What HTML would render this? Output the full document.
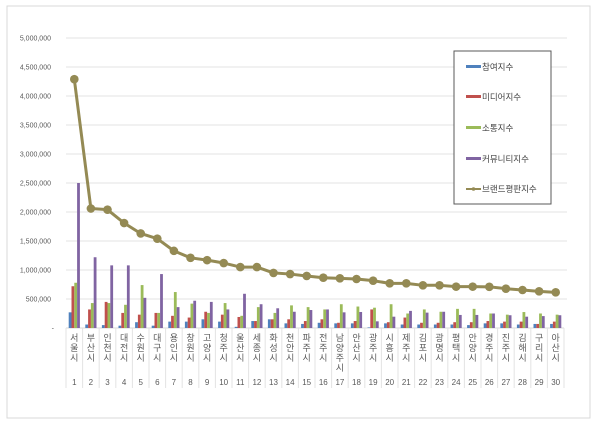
<!DOCTYPE html>
<html><head><meta charset="utf-8">
<style>
body{margin:0;background:#fff;}
svg{display:block;font-family:"Liberation Sans","Noto Sans CJK KR",sans-serif;}
</style></head>
<body>
<svg id="chart" width="600" height="425" viewBox="0 0 600 425" xmlns="http://www.w3.org/2000/svg">
<rect x="0" y="0" width="600" height="425" fill="#fff"/>
<rect x="7" y="6" width="583" height="412" fill="#fff" stroke="#d9d9d9" stroke-width="1"/>
<g id="grid"></g><g id="yaxis"></g><g id="xaxis"></g><g id="bars"></g><g id="line"></g>
<g>
<rect x="454" y="51" width="97" height="153" fill="#fff" stroke="#595959" stroke-width="1"/>
<g><rect x="466" y="65" width="15" height="3" fill="#4f81bd"/><text x="482" y="70" font-size="8.5" fill="#404040">참여지수</text></g>
<g><rect x="466" y="95" width="15" height="3" fill="#c0504d"/><text x="482" y="100" font-size="8.5" fill="#404040">미디어지수</text></g>
<g><rect x="466" y="126" width="15" height="3" fill="#9bbb59"/><text x="482" y="131" font-size="8.5" fill="#404040">소통지수</text></g>
<g><rect x="466" y="157" width="15" height="3" fill="#8064a2"/><text x="482" y="162" font-size="8.5" fill="#404040">커뮤니티지수</text></g>
<g><line x1="466" y1="189" x2="481" y2="189" stroke="#948a54" stroke-width="2"/><circle cx="473.5" cy="189" r="1.8" fill="#948a54"/><text x="482" y="192" font-size="8.5" fill="#404040">브랜드평판지수</text></g>
</g>
</svg>
<script>
const cities=["서울시","부산시","인천시","대전시","수원시","대구시","용인시","창원시","고양시","청주시","울산시","세종시","화성시","천안시","파주시","전주시","남양주시","안산시","광주시","시흥시","제주시","김포시","광명시","평택시","안양시","경주시","진주시","김해시","구리시","아산시"];
const participation=[270,60,50,40,100,40,110,110,150,110,20,120,150,80,70,90,80,80,10,80,60,60,60,60,50,80,80,60,70,70];
const media=[720,320,450,260,230,260,210,180,280,230,190,120,150,150,120,150,90,120,320,100,180,90,90,100,100,120,110,110,70,110];
const communication=[780,430,430,400,740,260,620,420,260,430,210,360,260,390,360,320,410,370,350,410,250,320,280,330,330,250,230,275,250,230];
const community=[2500,1220,1080,1080,520,930,360,470,450,320,590,410,340,280,310,320,270,276,115,195,295,265,280,225,225,250,220,195,205,220];
const brand=[4290,2060,2040,1810,1630,1540,1330,1210,1170,1120,1050,1050,950,930,897,867,856,845,816,770,770,736,736,713,713,710,678,655,632,615];
const yTicks=[0,500,1000,1500,2000,2500,3000,3500,4000,4500,5000];
const yTickLabels=["-","500,000","1,000,000","1,500,000","2,000,000","2,500,000","3,000,000","3,500,000","4,000,000","4,500,000","5,000,000"];
const NS="http://www.w3.org/2000/svg";
const X0=66,X1=564,Y0=328,Y1=38,YMAX=5000;
const bw=(X1-X0)/cities.length;
function y(v){return Y0-(v/YMAX)*(Y0-Y1);}
function xc(i){return X0+bw*(i+0.5);}
function mk(t,a,p){const e=document.createElementNS(NS,t);for(const k in a)e.setAttribute(k,a[k]);p.appendChild(e);return e;}
const grid=document.getElementById('grid'),ya=document.getElementById('yaxis'),xa=document.getElementById('xaxis'),bars=document.getElementById('bars'),lg=document.getElementById('line');
yTicks.forEach((t,i)=>{
 if(t>0){const l=mk('line',{x1:X0,x2:X1+3,y1:y(t),y2:y(t),stroke:'#e3e3e3','stroke-width':1},grid);
 
 }
 const tx=mk('text',{x:i===0?54:51,y:y(t)+2.5,'font-size':7,fill:'#595959','text-anchor':'end'},ya);
 tx.textContent=yTickLabels[i];
 
 
});
mk('line',{x1:X0,x2:X1,y1:Y0,y2:Y0,stroke:'#d9d9d9','stroke-width':1},xa);
for(let i=0;i<=cities.length;i++){mk('line',{x1:X0+bw*i,x2:X0+bw*i,y1:Y0,y2:388,stroke:'#e3e3e3','stroke-width':1},xa);}
cities.forEach((c,i)=>{
 const g=mk('g',{},xa);
 
 
 [...c].forEach((ch,j)=>{const t=mk('text',{x:xc(i),y:341+j*10,'font-size':9,fill:'#595959','text-anchor':'middle'},g);t.textContent=ch;});
 const n=mk('text',{x:xc(i),y:385,'font-size':8,fill:'#595959','text-anchor':'middle'},g);n.textContent=String(i+1);
});
const series=[[participation,'#4f81bd','bar-participation'],[media,'#c0504d','bar-media'],[communication,'#9bbb59','bar-communication'],[community,'#8064a2','bar-community']];
const w=2.8;
series.forEach((s,k)=>{
 s[0].forEach((v,i)=>{
  const x=xc(i)-2*w+k*w;
  const r=mk('rect',{x:x,y:y(v),width:w,height:Y0-y(v),fill:s[1]},bars);
  
  
 });
});
const pts=brand.map((v,i)=>xc(i)+','+y(v)).join(' ');
const pl=mk('polyline',{points:pts,fill:'none',stroke:'#948a54','stroke-width':3,'stroke-linejoin':'round'},lg);


brand.forEach((v,i)=>{
 const c=mk('circle',{cx:xc(i),cy:y(v),r:4.3,fill:'#948a54'},lg);
 
 
});
</script>
</body></html>
